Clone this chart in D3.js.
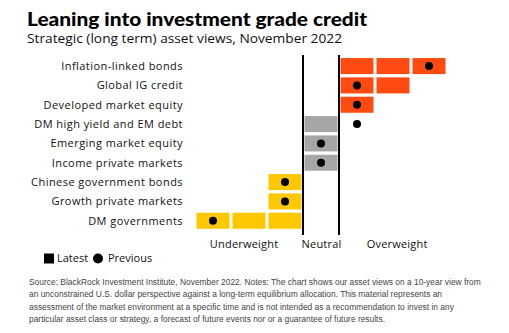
<!DOCTYPE html>
<html>
<head>
<meta charset="utf-8">
<script src="https://cdn.jsdelivr.net/npm/d3@7"></script>
<style>
  body { margin: 0; background: #fff; }
  svg { display: block; }
</style>
</head>
<body>
<div id="container"></div>
<script>
/* CONSTANTS AND GLOBALS */
const width = 509,
      height = 333;

// asset classes, top to bottom
const assets = [
  "Inflation-linked bonds",
  "Global IG credit",
  "Developed market equity",
  "DM high yield and EM debt",
  "Emerging market equity",
  "Income private markets",
  "Chinese government bonds",
  "Growth private markets",
  "DM governments"
];
// view in notches: negative = underweight, 0 = neutral, positive = overweight
const latest   = [3, 2, 1, 0, 0, 0, -1, -1, -3];
const previous = [3, 1, 1, 1, 0, 0, -1, -1, -3];

const zoneLabels = ["Underweight", "Neutral", "Overweight"];
const zoneTicks = [-2.15, 0, 2.1];

const sourceLines = [
  "Source: BlackRock Investment Institute, November 2022. Notes: The chart shows our asset views on a 10-year view from",
  "an unconstrained U.S. dollar perspective against a long-term equilibrium allocation. This material represents an",
  "assessment of the market environment at a specific time and is not intended as a recommendation to invest in any",
  "particular asset class or strategy, a forecast of future events nor or a guarantee of future results."
];

const colors = { over: "#ff4a12", neutral: "#a6a6a6", under: "#fdc800" };

const svg = d3.select("#container")
  .append("svg")
  .attr("width", width)
  .attr("height", height);

// + SCALES
const xScale = d3.scaleLinear().domain([-3, 3]).range([213, 429]);
const yScale = d3.scaleBand()
  .domain(assets)
  .range([56.4, 230.4])
  .paddingInner(0.17)
  .paddingOuter(0.085);
const cellW = 33;

// + TITLES
svg.append("text")
  .attr("x", 27).attr("y", 26)
  .attr("font-family", "Lato, 'Open Sans', sans-serif")
  .attr("font-weight", 900)
  .attr("font-size", 18.5)
  .attr("textLength", 340).attr("lengthAdjust", "spacingAndGlyphs")
  .attr("fill", "#000")
  .text("Leaning into investment grade credit");

svg.append("text")
  .attr("x", 27).attr("y", 43)
  .attr("font-family", "'Open Sans', sans-serif")
  .attr("font-size", 13)
  .attr("textLength", 315).attr("lengthAdjust", "spacingAndGlyphs")
  .attr("fill", "#111")
  .text("Strategic (long term) asset views, November 2022");

// + CELLS: one block per notch of the latest view
const cells = [];
assets.forEach((a, i) => {
  const v = latest[i];
  if (v === 0) cells.push({ asset: a, pos: 0, kind: "neutral" });
  else d3.range(1, Math.abs(v) + 1).forEach(k =>
    cells.push({ asset: a, pos: Math.sign(v) * k, kind: v > 0 ? "over" : "under" }));
});

svg.append("g")
  .selectAll("rect")
  .data(cells)
  .join("rect")
  .attr("x", d => xScale(d.pos) - cellW / 2)
  .attr("y", d => yScale(d.asset))
  .attr("width", cellW)
  .attr("height", yScale.bandwidth())
  .attr("fill", d => colors[d.kind]);

// + NEUTRAL ZONE BOUNDARIES
svg.append("g")
  .selectAll("line")
  .data([-0.5, 0.5])
  .join("line")
  .attr("x1", d => xScale(d)).attr("x2", d => xScale(d))
  .attr("y1", 55).attr("y2", 235)
  .attr("stroke", "#000")
  .attr("stroke-width", 2);

// + PREVIOUS VIEW DOTS
svg.append("g")
  .selectAll("circle")
  .data(assets)
  .join("circle")
  .attr("cx", (d, i) => xScale(previous[i]))
  .attr("cy", d => yScale(d) + yScale.bandwidth() / 2)
  .attr("r", 4)
  .attr("fill", "#000");

// + ROW LABELS
svg.append("g")
  .selectAll("text")
  .data(assets)
  .join("text")
  .attr("x", 183)
  .attr("y", d => yScale(d) + yScale.bandwidth() / 2 + 4)
  .attr("text-anchor", "end")
  .attr("font-family", "'Open Sans', sans-serif")
  .attr("font-size", 11)
  .attr("letter-spacing", 0.45)
  .attr("fill", "#111")
  .text(d => d);

// + ZONE AXIS
const xAxis = d3.axisBottom(xScale)
  .tickValues(zoneTicks)
  .tickSize(0)
  .tickPadding(0)
  .tickFormat((d, i) => zoneLabels[i]);

svg.append("g")
  .attr("transform", "translate(0, 240)")
  .call(xAxis)
  .call(g => g.select(".domain").remove())
  .selectAll("text")
  .attr("font-family", "'Open Sans', sans-serif")
  .attr("font-size", 11)
  .attr("letter-spacing", 0.2)
  .attr("fill", "#111")
  .attr("dy", "0.71em");

// + LEGEND
const legend = svg.append("g").attr("font-family", "'Open Sans', sans-serif")
  .attr("font-size", 11).attr("fill", "#111");
legend.append("rect").attr("x", 44).attr("y", 253.5).attr("width", 10).attr("height", 10).attr("fill", "#000");
legend.append("text").attr("x", 57).attr("y", 262).text("Latest");
legend.append("circle").attr("cx", 98).attr("cy", 258.5).attr("r", 5).attr("fill", "#000");
legend.append("text").attr("x", 108).attr("y", 262).text("Previous");

// + SOURCE NOTE: narrow type, squeezed horizontally so the first line spans 452px
const note = svg.append("g");
const noteText = note.selectAll("text")
  .data(sourceLines)
  .join("text")
  .attr("x", 0)
  .attr("y", (d, i) => i * 12.5)
  .attr("font-family", "'Liberation Sans', Arial, sans-serif")
  .attr("font-size", 9.5)
  .attr("fill", "#444")
  .text(d => d);
const firstW = noteText.node().getComputedTextLength();
note.attr("transform", `translate(29, 285) scale(${452 / firstW}, 1)`);
</script>
</body>
</html>
